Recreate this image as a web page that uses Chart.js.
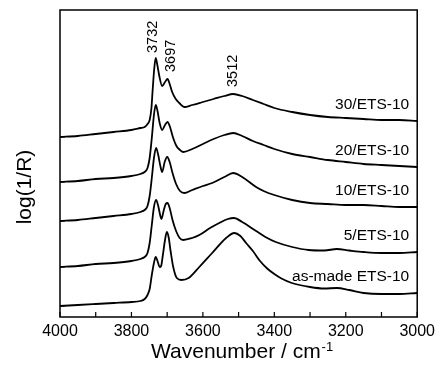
<!DOCTYPE html>
<html>
<head>
<meta charset="utf-8">
<script src="https://cdn.jsdelivr.net/npm/chart.js@4.4.1/dist/chart.umd.min.js"></script>
<style>
  html, body { margin: 0; padding: 0; background: #fff; }
  #grafico { display: block; }
</style>
</head>
<body>
<canvas id="grafico" width="440" height="369"></canvas>
<script>
// spectra (wavenumber / log(1/R) in offset units)
const wn30 = [4000,3950,3900,3850,3800,3775,3763,3755,3749,3744,3741,3736,3732,3728,3722,3714,3706,3699,3693,3686,3676,3666,3652,3630,3600,3570,3540,3515,3490,3460,3430,3400,3350,3300,3250,3200,3150,3100,3050,3000];
const a30  = [1.80,1.81,1.83,1.85,1.87,1.89,1.90,1.93,1.97,2.09,2.25,2.49,2.59,2.53,2.41,2.31,2.35,2.38,2.33,2.25,2.18,2.14,2.10,2.12,2.15,2.18,2.21,2.23,2.21,2.17,2.13,2.09,2.05,2.02,2.00,1.99,1.98,1.97,1.97,1.96];

const wn20 = [4000,3950,3900,3850,3800,3775,3763,3755,3749,3743,3737,3732,3727,3721,3714,3706,3699,3692,3684,3674,3664,3655,3630,3600,3570,3540,3515,3490,3460,3430,3400,3350,3300,3250,3200,3150,3100,3050,3000];
const a20  = [1.35,1.36,1.38,1.39,1.41,1.43,1.45,1.49,1.59,1.79,2.02,2.12,2.06,1.94,1.87,1.92,1.95,1.90,1.80,1.71,1.67,1.65,1.68,1.73,1.78,1.82,1.84,1.81,1.76,1.72,1.68,1.63,1.60,1.57,1.55,1.53,1.52,1.51,1.50];

const wn10 = [4000,3950,3900,3850,3800,3775,3763,3755,3749,3743,3737,3731,3725,3719,3714,3707,3700,3693,3685,3675,3664,3652,3630,3600,3574,3540,3515,3490,3451,3430,3400,3350,3300,3250,3200,3150,3100,3050,3000];
const a10  = [0.96,0.97,0.99,1.01,1.03,1.05,1.07,1.11,1.21,1.39,1.59,1.69,1.62,1.51,1.45,1.55,1.60,1.55,1.44,1.33,1.26,1.24,1.27,1.31,1.34,1.40,1.44,1.40,1.30,1.26,1.22,1.17,1.14,1.13,1.12,1.12,1.11,1.10,1.10];

const wn5 = [4000,3950,3900,3850,3800,3775,3763,3755,3749,3743,3737,3731,3725,3719,3716,3710,3704,3699,3693,3685,3675,3665,3655,3630,3610,3580,3554,3530,3513,3490,3451,3425,3396,3350,3304,3260,3225,3190,3150,3100,3050,3000];
const a5  = [0.50,0.51,0.53,0.54,0.56,0.58,0.60,0.64,0.74,0.92,1.10,1.17,1.11,1.01,0.98,1.06,1.13,1.14,1.09,0.97,0.86,0.79,0.77,0.79,0.82,0.89,0.94,0.98,0.99,0.95,0.86,0.80,0.75,0.70,0.67,0.665,0.68,0.665,0.65,0.64,0.64,0.65];

const wnAs = [4000,3950,3900,3850,3800,3775,3763,3755,3749,3743,3737,3732,3727,3721,3717,3712,3706,3701,3696,3690,3683,3673,3660,3640,3610,3574,3535,3512,3495,3479,3460,3440,3420,3400,3380,3351,3300,3260,3225,3190,3150,3100,3050,3000];
const aAs  = [0.11,0.12,0.13,0.14,0.15,0.16,0.18,0.22,0.28,0.42,0.54,0.60,0.56,0.50,0.51,0.62,0.77,0.85,0.80,0.65,0.50,0.39,0.37,0.39,0.50,0.64,0.79,0.84,0.81,0.74,0.66,0.56,0.485,0.43,0.385,0.34,0.30,0.285,0.29,0.27,0.24,0.23,0.23,0.24];

const nomes = ["30/ETS-10","20/ETS-10","10/ETS-10","5/ETS-10","as-made ETS-10"];
const xTicks = [4000,3800,3600,3400,3200,3000];
const picos = [3732, 3697, 3512];

const fonte = "'Liberation Sans', Arial, sans-serif";

function serie(wn, a){
    return wn.map((w, i) => ({x: w, y: a[i]}));
}

const todas = [[wn30,a30],[wn20,a20],[wn10,a10],[wn5,a5],[wnAs,aAs]];

// frame, inward ticks, labels
const extras = {
    id: 'extras',
    afterDraw(chart){
        const c = chart.ctx, ca = chart.chartArea;
        const sx = chart.scales.x, sy = chart.scales.y;
        c.save();
        c.strokeStyle = '#000';
        c.lineWidth = 1.5;
        c.strokeRect(ca.left, ca.top, ca.right - ca.left, ca.bottom - ca.top);

        c.lineWidth = 1.2;
        c.beginPath();
        for(let w = 3000; w <= 4000; w += 100){
            const px = sx.getPixelForValue(w);
            c.moveTo(px, ca.bottom);
            c.lineTo(px, ca.bottom - 5);
        }
        todas.forEach(s => {
            const py = sy.getPixelForValue(s[1][0]);
            c.moveTo(ca.left, py);
            c.lineTo(ca.left + 5, py);
        });
        c.stroke();

        c.fillStyle = '#000';
        // curve names above the right end
        c.font = "15.5px " + fonte;
        c.textAlign = 'right';
        c.textBaseline = 'middle';
        todas.forEach((s, i) => {
            const py = sy.getPixelForValue(s[1][s[1].length - 1]);
            c.fillText(nomes[i], ca.right - 8, py - 16);
        });

        // peak positions, vertical
        c.font = "14.5px " + fonte;
        const dx = [-3, 3, -1];
        picos.forEach((p, i) => {
            let k = 0;
            wn30.forEach((w, j) => { if (Math.abs(w - p) < Math.abs(wn30[k] - p)) k = j; });
            const px = sx.getPixelForValue(p) + dx[i];
            const py = sy.getPixelForValue(a30[k]) - (i == 0 ? 5 : 7);
            c.save();
            c.translate(px, py);
            c.rotate(-Math.PI / 2);
            c.textAlign = 'left';
            c.textBaseline = 'middle';
            c.fillText(String(p), 0, 0);
            c.restore();
        });

        // y title
        c.save();
        c.font = "21px " + fonte;
        c.translate(25, 187);
        c.rotate(-Math.PI / 2);
        c.textAlign = 'center';
        c.textBaseline = 'middle';
        c.fillText("log(1/R)", 0, 0);
        c.restore();

        // x title with superscript
        c.textAlign = 'left';
        c.textBaseline = 'alphabetic';
        c.font = "21px " + fonte;
        const t1 = "Wavenumber / cm";
        const w1 = c.measureText(t1).width;
        c.font = "13px " + fonte;
        const w2 = c.measureText("-1").width;
        const x0 = (ca.left + ca.right) / 2 + 3 - (w1 + w2) / 2;
        c.font = "21px " + fonte;
        c.fillText(t1, x0, 358);
        c.font = "13px " + fonte;
        c.fillText("-1", x0 + w1 + 1, 351);
        c.restore();
    }
};

const ctx = document.getElementById('grafico').getContext('2d');
new Chart(ctx, {
    type: 'line',
    data: {
        datasets: todas.map((s, i) => ({
            label: nomes[i],
            data: serie(s[0], s[1]),
            borderColor: '#000',
            borderWidth: 1.8,
            pointRadius: 0,
            fill: false,
            cubicInterpolationMode: 'monotone'
        }))
    },
    options: {
        responsive: false,
        animation: false,
        devicePixelRatio: 1,
        layout: { padding: { top: 10, right: 21, left: 0, bottom: 0 } },
        plugins: { legend: { display: false }, tooltip: { enabled: false } },
        scales: {
            x: {
                type: 'linear',
                reverse: true,
                min: 3000,
                max: 4000,
                afterBuildTicks: s => { s.ticks = xTicks.map(v => ({value: v})); },
                ticks: {
                    font: { size: 16, family: fonte },
                    color: '#000',
                    padding: 5,
                    maxRotation: 0,
                    autoSkip: false,
                    callback: v => String(v)
                },
                grid: { display: false, drawTicks: false },
                border: { display: false },
                afterFit: s => { s.height = 52; }
            },
            y: {
                min: 0,
                max: 3.07,
                ticks: { display: false },
                grid: { display: false, drawTicks: false },
                border: { display: false },
                afterFit: s => { s.width = 60; }
            }
        }
    },
    plugins: [extras]
});
</script>
</body>
</html>
